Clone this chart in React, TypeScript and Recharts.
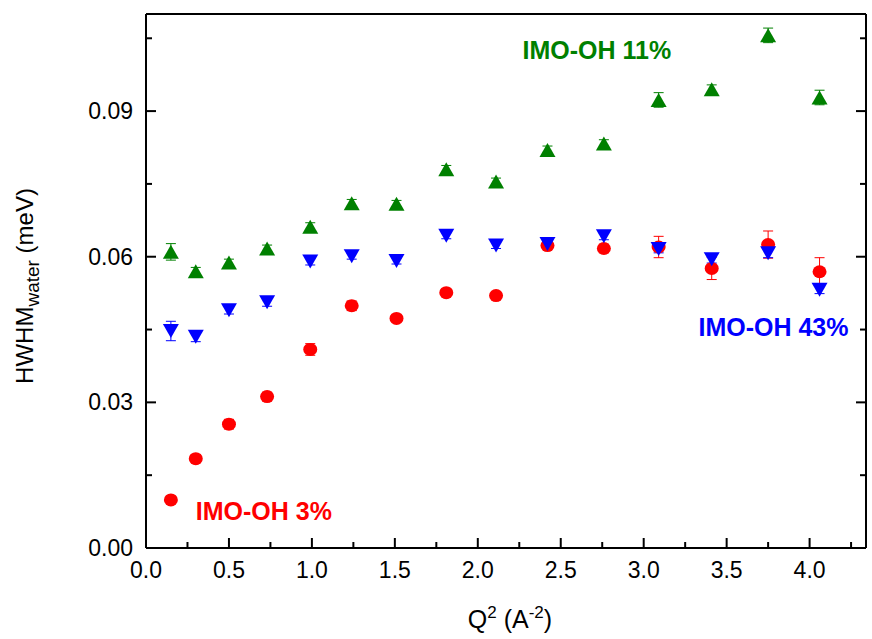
import * as React from "react";
import {
  ScatterChart,
  Scatter,
  XAxis,
  YAxis,
  ErrorBar,
  ReferenceDot,
} from "recharts";

const FONT = "'Liberation Sans', Arial, sans-serif";
const RED = "#ff0000";
const BLUE = "#0000ff";
const GREEN = "#008000";

// Q^2 positions shared by all three samples
const q2 = [0.15, 0.3, 0.5, 0.73, 0.99, 1.24, 1.51, 1.81, 2.11, 2.42, 2.76, 3.09, 3.41, 3.75, 4.06];

const hwhm3 = [0.0099, 0.0184, 0.0255, 0.0312, 0.0409, 0.0499, 0.0473, 0.0526, 0.052, 0.0623, 0.0617, 0.062, 0.0576, 0.0625, 0.0569];
const err3 = [0.0003, 0.0008, 0.001, 0.0009, 0.0012, 0.001, 0.0007, 0.0006, 0.0006, 0.0007, 0.0009, 0.0022, 0.0023, 0.0028, 0.0029];

const hwhm43 = [0.0447, 0.0435, 0.049, 0.0506, 0.059, 0.0601, 0.0591, 0.0643, 0.0623, 0.0626, 0.0642, 0.0616, 0.0595, 0.0607, 0.0532];
const err43 = [0.002, 0.001, 0.0008, 0.0008, 0.0007, 0.0006, 0.0006, 0.0006, 0.0006, 0.0007, 0.0007, 0.0008, 0.0008, 0.0009, 0.0008];

const hwhm11 = [0.061, 0.057, 0.0588, 0.0617, 0.0662, 0.071, 0.0709, 0.078, 0.0755, 0.082, 0.0833, 0.0923, 0.0945, 0.1056, 0.0928];
const err11 = [0.0017, 0.0008, 0.0007, 0.0007, 0.0008, 0.0008, 0.0007, 0.0008, 0.0007, 0.0008, 0.0008, 0.0015, 0.0009, 0.0015, 0.0015];

const xTicks = [0, 0.25, 0.5, 0.75, 1, 1.25, 1.5, 1.75, 2, 2.25, 2.5, 2.75, 3, 3.25, 3.5, 3.75, 4, 4.25];
const yTicks = [0, 0.015, 0.03, 0.045, 0.06, 0.075, 0.09, 0.105];

// text labels: [text, q2 of left edge, hwhm of middle, colour]
const labels: [string, number, number, string][] = [
  ["IMO-OH 11%", 2.27, 0.1025, GREEN],
  ["IMO-OH 43%", 3.33, 0.0455, BLUE],
  ["IMO-OH 3%", 0.3, 0.0076, RED],
];

const build = (ys: number[], es: number[]) =>
  q2.map((x, i) => ({ x, y: ys[i], err: es[i] }));

const isMajor = (v: number, step: number) =>
  Math.abs(v / step - Math.round(v / step)) < 1e-6;

const BottomTick = (p: any) => {
  const v = p.payload.value;
  const major = isMajor(v, 0.5);
  return (
    <g>
      <line x1={p.x} x2={p.x} y1={p.y} y2={p.y - (major ? 10 : 6)} stroke="#000" strokeWidth={2} />
      {major && (
        <text x={p.x} y={p.y + 30} textAnchor="middle" fontSize={23} fontFamily={FONT} fill="#000">
          {v.toFixed(1)}
        </text>
      )}
    </g>
  );
};

const TopTick = (p: any) => {
  const major = isMajor(p.payload.value, 0.5);
  return <line x1={p.x} x2={p.x} y1={p.y} y2={p.y + (major ? 10 : 6)} stroke="#000" strokeWidth={2} />;
};

const LeftTick = (p: any) => {
  const v = p.payload.value;
  const major = isMajor(v, 0.03);
  return (
    <g>
      <line x1={p.x} x2={p.x + (major ? 10 : 6)} y1={p.y} y2={p.y} stroke="#000" strokeWidth={2} />
      {major && (
        <text x={p.x - 13} y={p.y + 8} textAnchor="end" fontSize={23} fontFamily={FONT} fill="#000">
          {v.toFixed(2)}
        </text>
      )}
    </g>
  );
};

const RightTick = (p: any) => {
  const major = isMajor(p.payload.value, 0.03);
  return <line x1={p.x} x2={p.x - (major ? 10 : 6)} y1={p.y} y2={p.y} stroke="#000" strokeWidth={2} />;
};

const XTitle = (p: any) => {
  const vb = p.viewBox;
  const cx = vb.x + vb.width / 2 + 4;
  return (
    <text x={cx} y={vb.y + 80} textAnchor="middle" fontSize={25} fontFamily={FONT} fill="#000">
      Q<tspan fontSize={17} dy={-10}>2</tspan>
      <tspan dy={10}> (A</tspan>
      <tspan fontSize={17} dy={-10}>-2</tspan>
      <tspan dy={10}>)</tspan>
    </text>
  );
};

const YTitle = (p: any) => {
  const vb = p.viewBox;
  const x = vb.x + 33;
  const y = vb.y + vb.height / 2 + 5;
  return (
    <text x={x} y={y} transform={`rotate(-90 ${x} ${y})`} textAnchor="middle" fontSize={24} fontFamily={FONT} fill="#000">
      HWHM<tspan fontSize={19} dy={6}>water</tspan>
      <tspan dy={-6}> (meV)</tspan>
    </text>
  );
};

const Dot = (p: any) => <ellipse cx={p.cx} cy={p.cy} rx={7} ry={6.5} fill={RED} />;

const Up = (p: any) => (
  <polygon points={`${p.cx - 8},${p.cy + 7} ${p.cx + 8},${p.cy + 7} ${p.cx},${p.cy - 7}`} fill={GREEN} />
);

const Down = (p: any) => (
  <polygon points={`${p.cx - 8},${p.cy - 7} ${p.cx + 8},${p.cy - 7} ${p.cx},${p.cy + 7}`} fill={BLUE} />
);

export default function App() {
  const axisLine = { stroke: "#000", strokeWidth: 2 };
  return (
    <div style={{ position: "absolute", left: 0, top: 0, background: "#fff", fontFamily: FONT }}>
      <ScatterChart width={872} height={639} margin={{ top: 13, right: 5, bottom: 90, left: 0 }}>
        <XAxis
          type="number"
          dataKey="x"
          domain={[0, 4.34]}
          ticks={xTicks}
          interval={0}
          height={1}
          tickSize={0}
          tickMargin={0}
          tickLine={false}
          axisLine={axisLine}
          tick={BottomTick}
          allowDataOverflow
          label={{ content: XTitle }}
        />
        <XAxis
          xAxisId="top"
          orientation="top"
          type="number"
          domain={[0, 4.34]}
          ticks={xTicks}
          interval={0}
          height={1}
          tickSize={0}
          tickMargin={0}
          tickLine={false}
          axisLine={axisLine}
          tick={TopTick}
          allowDataOverflow
        />
        <YAxis
          type="number"
          dataKey="y"
          domain={[0, 0.11]}
          ticks={yTicks}
          interval={0}
          width={146}
          tickSize={0}
          tickMargin={0}
          tickLine={false}
          axisLine={axisLine}
          tick={LeftTick}
          allowDataOverflow
          label={{ content: YTitle }}
        />
        <YAxis
          yAxisId="right"
          orientation="right"
          type="number"
          domain={[0, 0.11]}
          ticks={yTicks}
          interval={0}
          width={1}
          tickSize={0}
          tickMargin={0}
          tickLine={false}
          axisLine={axisLine}
          tick={RightTick}
          allowDataOverflow
        />
        <Scatter data={build(hwhm11, err11)} shape={Up} isAnimationActive={false}>
          <ErrorBar dataKey="err" direction="y" width={5} stroke={GREEN} strokeWidth={1} />
        </Scatter>
        <Scatter data={build(hwhm3, err3)} shape={Dot} isAnimationActive={false}>
          <ErrorBar dataKey="err" direction="y" width={5} stroke={RED} strokeWidth={1} />
        </Scatter>
        <Scatter data={build(hwhm43, err43)} shape={Down} isAnimationActive={false}>
          <ErrorBar dataKey="err" direction="y" width={5} stroke={BLUE} strokeWidth={1} />
        </Scatter>
        {labels.map(([text, x, y, color]) => (
          <ReferenceDot
            key={text}
            x={x}
            y={y}
            r={0}
            shape={(p: any) => (
              <text x={p.cx} y={p.cy + 9} fontSize={25} fontWeight="bold" fontFamily={FONT} fill={color}>
                {text}
              </text>
            )}
          />
        ))}
      </ScatterChart>
    </div>
  );
}
